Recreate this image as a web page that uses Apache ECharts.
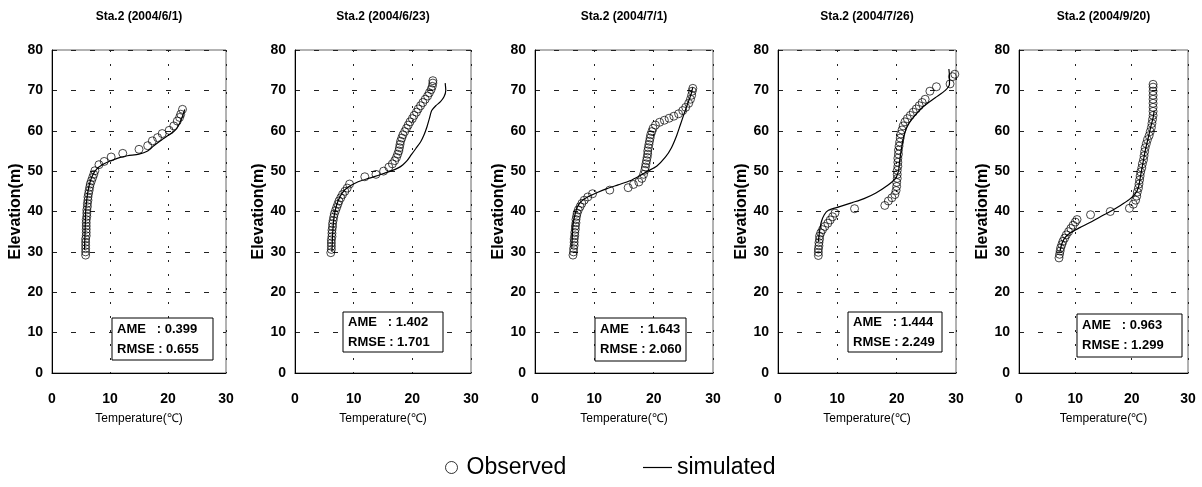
<!DOCTYPE html>
<html>
<head>
<meta charset="utf-8">
<script src="https://cdn.jsdelivr.net/npm/echarts@6/dist/echarts.min.js"></script>
<style>
  html, body { margin: 0; padding: 0; background: #fff; }
  #chart { width: 1202px; height: 487px; }
</style>
</head>
<body>
<div id="chart"></div>
<script>
// panel titles and fit statistics
var titles = ['Sta.2 (2004/6/1)', 'Sta.2 (2004/6/23)', 'Sta.2 (2004/7/1)', 'Sta.2 (2004/7/26)', 'Sta.2 (2004/9/20)'];
var ame = ['0.399', '1.402', '1.643', '1.444', '0.963'];
var rmse = ['0.655', '1.701', '2.060', '2.249', '1.299'];
var tempTicks = [0, 10, 20, 30];
var elevTicks = [0, 10, 20, 30, 40, 50, 60, 70, 80];

// [temperature, elevation]
var obs1 = [[5.8,29.2],[5.8,30.0],[5.8,30.8],[5.8,31.6],[5.8,32.4],[5.8,33.2],[5.9,34.0],[5.9,34.8],[5.9,35.6],[5.9,36.4],[5.9,37.2],[5.9,38.0],[6.0,38.8],[6.0,39.6],[6.0,40.4],[6.1,41.2],[6.1,42.0],[6.2,42.8],[6.2,43.6],[6.3,44.4],[6.4,45.2],[6.5,46.0],[6.6,46.8],[6.8,47.6],[7.0,48.4],[7.2,49.2],[7.4,50.1],[8.1,51.6],[9.0,52.4],[10.2,53.5],[12.2,54.4],[15.0,55.4],[16.5,56.3],[17.3,57.5],[18.2,58.3],[19.0,59.3],[20.2,60.1],[21.0,61.2],[21.6,62.4],[22.0,63.3],[22.2,64.1],[22.5,65.3]];
var sim1 = [[5.6,30.5],[5.7,35],[5.8,40],[6.0,43],[6.2,45],[6.5,47],[7.0,49],[7.7,50.5],[8.6,51.5],[10,52.5],[11.5,53.3],[13,53.8],[15,54.2],[16.5,55],[17.5,56.2],[18.7,57.5],[20,58.8],[21,59.8],[21.7,61],[22.2,62.5],[22.6,64],[22.9,65.3]];

var obs2 = [[6.1,29.8],[6.2,30.6],[6.2,31.4],[6.2,32.2],[6.2,33.0],[6.3,33.8],[6.3,34.6],[6.3,35.4],[6.4,36.2],[6.4,37.0],[6.5,37.8],[6.6,38.6],[6.7,39.4],[6.9,40.2],[7.1,41.0],[7.3,41.8],[7.5,42.6],[7.8,43.4],[8.1,44.2],[8.5,45.0],[8.9,45.8],[9.3,46.8],[11.9,48.6],[13.8,49.2],[15.1,50.0],[16.0,51.0],[16.6,51.8],[17.0,52.6],[17.3,53.4],[17.5,54.2],[17.7,55.0],[17.8,55.8],[17.9,56.6],[18.0,57.4],[18.2,58.2],[18.4,59.0],[18.7,59.8],[19.0,60.6],[19.3,61.4],[19.6,62.2],[20.0,63.0],[20.3,63.8],[20.7,64.6],[21.0,65.4],[21.4,66.2],[21.8,67.0],[22.2,67.8],[22.6,68.6],[22.9,69.4],[23.2,70.2],[23.4,71.0],[23.5,71.8],[23.5,72.4]];
var sim2 = [[6.3,30],[6.4,34],[6.6,38],[6.9,40.5],[7.3,42.5],[8.0,44.5],[9.0,46],[10.5,47.2],[12.5,48.2],[14.5,49.1],[16.3,50],[17.6,50.8],[18.4,51.6],[19.1,52.6],[19.8,54],[20.6,55.6],[21.4,57.2],[22.0,59],[22.5,61],[22.9,63],[23.3,65],[24.0,66.2],[24.8,67.2],[25.4,68.4],[25.7,70],[25.6,71.8]];

var obs3 = [[6.4,29.2],[6.5,30.0],[6.5,30.8],[6.6,31.6],[6.6,32.4],[6.6,33.2],[6.7,34.0],[6.7,34.8],[6.8,35.6],[6.8,36.4],[6.9,37.2],[6.9,38.0],[7.0,38.8],[7.1,39.6],[7.3,40.4],[7.6,41.2],[7.9,42.0],[8.3,42.8],[8.9,43.6],[9.7,44.4],[12.6,45.3],[15.7,45.9],[16.6,46.7],[17.5,47.3],[18.0,48.2],[18.3,49.2],[18.5,50.2],[18.6,51.0],[18.7,51.8],[18.8,52.6],[18.9,53.4],[19.0,54.2],[19.0,55.0],[19.1,55.8],[19.2,56.6],[19.3,57.4],[19.4,58.2],[19.5,59.0],[19.7,59.8],[19.9,60.6],[20.3,61.4],[21.0,62.1],[21.8,62.6],[22.6,63.1],[23.4,63.6],[24.2,64.2],[24.9,65.0],[25.4,65.8],[25.9,66.8],[26.2,67.8],[26.4,68.8],[26.5,69.8],[26.6,70.5]];
var sim3 = [[6.2,31],[6.3,34],[6.4,36.5],[6.7,39],[7.1,41],[7.8,42.5],[9.0,43.7],[10.5,44.7],[12.0,45.6],[14,46.6],[16,47.6],[17.6,48.8],[19.0,50],[20.5,51.2],[22.0,53.5],[23.0,55.8],[23.8,58.5],[24.5,61.5],[25.2,64.5],[25.8,67],[26.3,69],[26.6,70.8]];

var obs4 = [[6.8,29.1],[6.8,29.9],[6.8,30.7],[6.9,31.5],[6.9,32.3],[7.0,33.1],[7.0,33.9],[7.2,34.7],[7.5,35.5],[7.9,36.3],[8.4,37.1],[8.8,37.9],[9.2,38.7],[9.6,39.6],[12.9,40.7],[18.0,41.5],[18.6,42.6],[19.2,43.4],[19.7,44.2],[19.9,45.2],[20.0,46.2],[20.0,47.2],[20.1,48.2],[20.1,49.2],[20.1,50.2],[20.2,51.2],[20.2,52.2],[20.2,53.2],[20.3,54.2],[20.3,55.2],[20.4,56.2],[20.5,57.2],[20.6,58.2],[20.7,59.2],[20.9,60.2],[21.1,61.2],[21.4,62.2],[21.8,63.0],[22.3,63.8],[22.8,64.6],[23.3,65.4],[23.8,66.2],[24.3,67.0],[24.8,67.8],[25.6,69.8],[26.7,70.9],[29.0,71.6],[29.4,73.4],[29.8,74.0]];
var sim4 = [[6.8,32.5],[7.0,35],[7.3,37.4],[7.8,39.2],[8.5,40.3],[10.4,41.2],[12.5,42.2],[14.5,43.2],[16.5,44.6],[18.5,46.5],[19.8,48.2],[20.3,50],[20.5,52.5],[20.8,55.5],[21.1,58],[21.7,60.8],[22.8,63.3],[24.5,66],[26.5,68.2],[28.2,70],[28.9,71.5],[28.9,73.5],[28.8,75.3]];

var obs5 = [[7.1,28.5],[7.2,29.4],[7.3,30.2],[7.4,31.0],[7.6,31.8],[7.8,32.6],[8.1,33.4],[8.4,34.2],[8.8,35.0],[9.2,35.8],[9.6,36.6],[10.0,37.4],[10.3,38.0],[12.7,39.2],[16.2,40.0],[19.6,40.8],[20.3,41.8],[20.7,42.8],[20.9,43.8],[21.0,44.8],[21.2,45.8],[21.3,46.8],[21.4,47.8],[21.5,48.8],[21.6,49.8],[21.8,50.8],[21.9,51.8],[22.1,52.8],[22.2,53.8],[22.3,54.8],[22.4,55.8],[22.6,56.8],[22.8,57.8],[23.1,58.8],[23.3,59.8],[23.5,60.8],[23.6,61.8],[23.7,62.8],[23.8,63.8],[23.8,64.8],[23.8,65.8],[23.8,66.8],[23.8,67.8],[23.8,68.8],[23.8,69.8],[23.8,70.8],[23.8,71.5]];
var sim5 = [[7.3,30.2],[7.6,32],[8.2,33.6],[9.2,34.8],[10.8,36],[12.5,37.2],[14.3,38.6],[16.2,40],[18,41.5],[19.6,43],[20.6,44.3],[21.2,46],[21.6,49],[22.0,52],[22.4,55],[22.9,58],[23.4,61],[23.8,63.2],[24.0,65]];

var observed = [obs1, obs2, obs3, obs4, obs5];
var simulated = [sim1, sim2, sim3, sim4, sim5];

// layout
var font = 'Arial, "Liberation Sans", sans-serif';
var plotLeft = [52, 295, 535, 778, 1019];
var plotWidth = [174, 176, 178, 178, 169];
var plotTop = 50, plotHeight = 323;
var boxes = [[112, 318, 101, 42], [343, 312, 100, 40], [595, 318, 91, 43], [848, 312, 94, 40], [1077, 314, 105, 43]];

var myChart = echarts.init(document.getElementById('chart'));
var grids = [], xAxes = [], yAxes = [], series = [], graphics = [];

for (var i = 0; i < 5; i++) {
  grids.push({
    left: plotLeft[i], top: plotTop, width: plotWidth[i], height: plotHeight,
    show: true, borderColor: '#666', borderWidth: 1, backgroundColor: '#fff',
  });
  xAxes.push({
    gridIndex: i, type: 'value', min: tempTicks[0], max: tempTicks[tempTicks.length - 1], interval: 10,
    name: 'Temperature(℃)', nameLocation: 'middle', nameGap: 40,
    nameTextStyle: { fontSize: 12, color: '#000', fontFamily: font },
    axisLine: { show: true, onZero: false, lineStyle: { color: '#000', width: 1 } },
    axisTick: { show: false },
    axisLabel: { margin: 19, fontSize: 14, fontWeight: 'bold', color: '#000', fontFamily: font },
    splitLine: { show: true, lineStyle: { color: '#222', width: 1, type: [2, 12] } },
  });
  yAxes.push({
    gridIndex: i, type: 'value', min: elevTicks[0], max: elevTicks[elevTicks.length - 1], interval: 10,
    name: 'Elevation(m)', nameLocation: 'middle', nameGap: 27,
    nameTextStyle: { fontSize: 16, fontWeight: 'bold', color: '#000', fontFamily: font },
    axisLine: { show: true, onZero: false, lineStyle: { color: '#000', width: 1 } },
    axisTick: { show: false },
    axisLabel: { margin: 9, fontSize: 14, fontWeight: 'bold', color: '#000', fontFamily: font },
    splitLine: { show: true, lineStyle: { color: '#222', width: 1, type: [5, 14] } },
  });
  series.push({
    name: 'simulated', type: 'line', xAxisIndex: i, yAxisIndex: i,
    data: simulated[i], showSymbol: false, symbol: 'none', smooth: 0.25,
    lineStyle: { color: '#000', width: 1.2 }, itemStyle: { color: '#000' }, z: 3,
  });
  series.push({
    name: 'Observed', type: 'scatter', xAxisIndex: i, yAxisIndex: i,
    data: observed[i], symbol: 'circle', symbolSize: 8,
    itemStyle: { color: 'rgba(0,0,0,0)', borderColor: '#000', borderWidth: 0.9 }, z: 4,
  });
  graphics.push({
    type: 'text', x: plotLeft[i] + plotWidth[i] / 2, y: 17,
    style: { text: titles[i], font: 'bold 12px ' + font, fill: '#000', align: 'center', verticalAlign: 'middle' },
  });
  var b = boxes[i];
  graphics.push({
    type: 'rect', shape: { x: b[0], y: b[1], width: b[2], height: b[3] },
    style: { fill: '#fff', stroke: '#000', lineWidth: 1 }, z: 10,
  });
  graphics.push({
    type: 'text', x: b[0] + 5, y: b[1] + b[3] / 2, z: 11,
    style: {
      text: 'AME   : ' + ame[i] + '\nRMSE : ' + rmse[i],
      font: 'bold 13px ' + font, fill: '#000', lineHeight: 20, verticalAlign: 'middle',
    },
  });
}

var option = {
  animation: false,
  backgroundColor: '#fff',
  textStyle: { fontFamily: font },
  grid: grids,
  xAxis: xAxes,
  yAxis: yAxes,
  series: series,
  graphic: graphics,
  legend: [
    {
      data: ['Observed'], left: 440, top: 451, icon: 'circle', itemWidth: 12, itemHeight: 12, itemGap: 0,
      itemStyle: { color: 'rgba(0,0,0,0)', borderColor: '#000', borderWidth: 1 },
      textStyle: { fontSize: 23, color: '#000', fontFamily: font, padding: [0, 0, 0, 4] },
    },
    {
      data: ['simulated'], left: 638, top: 451, icon: 'rect', itemWidth: 29, itemHeight: 1.2, itemGap: 0,
      itemStyle: { color: '#000', borderWidth: 0 },
      textStyle: { fontSize: 23, color: '#000', fontFamily: font },
    },
  ],
};

option && myChart.setOption(option);
window.addEventListener('resize', () => {
  myChart.resize();
});
</script>
</body>
</html>
